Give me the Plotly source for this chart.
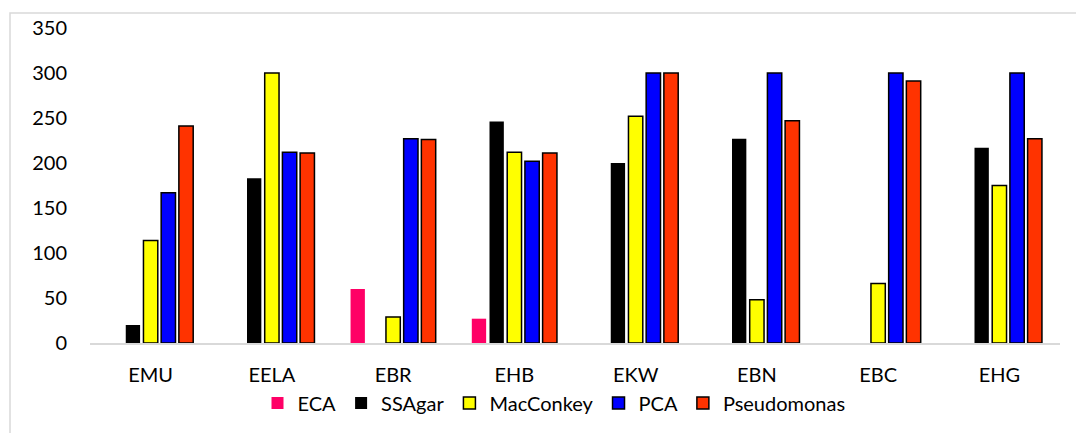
import plotly.graph_objects as go

# Sample sites
sites = ["EMU", "EELA", "EBR", "EHB", "EKW", "EBN", "EBC", "EHG"]

# Counts per culture medium (None = no growth recorded)
eca = [None, None, 60, 27, None, None, None, None]
ssagar = [20, 183, None, 246, 200, 227, None, 217]
macconkey = [114, 300, 29, 212, 252, 48, 66, 175]
pca = [167, 212, 227, 202, 300, 300, 300, 300]
pseudomonas = [241, 211, 226, 211, 300, 247, 291, 227]

y_ticks = [0, 50, 100, 150, 200, 250, 300, 350]

series = [
    ("ECA", eca, "#FF0066", "#FF0066", 0),
    ("SSAgar", ssagar, "#000000", "#000000", 0),
    ("MacConkey", macconkey, "#FFFF00", "#000000", 1.5),
    ("PCA", pca, "#0000FF", "#000000", 1.5),
    ("Pseudomonas", pseudomonas, "#FF3300", "#000000", 1.5),
]

fig = go.Figure()
for name, vals, fill, edge, lw in series:
    fig.add_trace(go.Bar(
        name=name, x=sites, y=vals,
        marker=dict(color=fill, line=dict(color=edge, width=lw)),
    ))

W, H = 1076, 433
ml, mr, mt, mb = 90, 16, 28, 89
pw, ph = W - ml - mr, H - mt - mb

font = dict(family="Lato, 'Open Sans', sans-serif", size=20, color="#000000")

fig.update_layout(
    width=W, height=H,
    margin=dict(l=ml, r=mr, t=mt, b=mb, pad=0),
    paper_bgcolor="white", plot_bgcolor="white",
    barmode="group", bargap=0.27, bargroupgap=0.19,
    font=font,
    showlegend=True,
    legend=dict(
        orientation="h", xanchor="center", x=(554 - ml) / pw,
        yanchor="middle", y=(ph - (403 - mt)) / ph,
        font=font, itemwidth=30, traceorder="normal",
        bgcolor="rgba(0,0,0,0)", tracegroupgap=0,
    ),
    xaxis=dict(
        showline=True, linecolor="#D9D9D9", linewidth=1.5,
        showgrid=False, ticks="", ticklabelstandoff=13,
        tickfont=font,
    ),
    yaxis=dict(
        range=[0, 350], tickvals=y_ticks, showgrid=False,
        zeroline=False, showline=False, ticks="",
        ticklabelstandoff=22, tickfont=font,
    ),
    shapes=[dict(
        type="rect", xref="paper", yref="paper",
        x0=(10 - ml) / pw, x1=(W + 10 - ml) / pw,
        y0=(ph - (H + 10 - mt)) / ph, y1=(ph - (13 - mt)) / ph,
        line=dict(color="#D9D9D9", width=1.5), fillcolor="rgba(0,0,0,0)",
        layer="below",
    )],
)

fig.write_html("out.html")
